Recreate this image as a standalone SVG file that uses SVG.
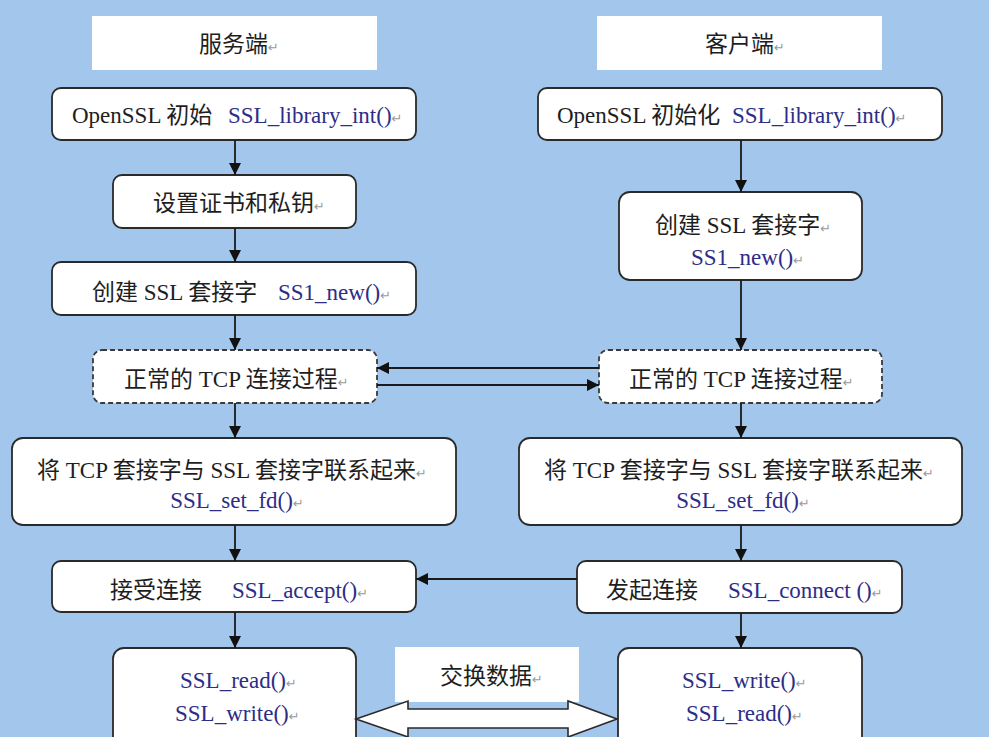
<svg xmlns="http://www.w3.org/2000/svg" width="989" height="737" viewBox="0 0 989 737">
<style>
.bg{fill:#a3c6ec}
.box{fill:#ffffff;stroke:#2a2a2a;stroke-width:1.8}
.dash{fill:#ffffff;stroke:#3a3a3a;stroke-width:1.8;stroke-dasharray:5 3}
.hdr{fill:#ffffff}
.t{font-family:"Liberation Serif","Noto Sans CJK SC",serif;font-size:23px;fill:#1e1e1e}
.b{font-family:"Liberation Serif","Noto Sans CJK SC",serif;font-size:23px;fill:#2d2d86}
.r{font-family:"DejaVu Sans",sans-serif;font-size:13px;fill:#9a9a9a}
.ln{stroke:#1a1a1a;stroke-width:1.8;fill:none}
</style>
<defs>
<marker id="ah" viewBox="0 0 12 12" refX="12" refY="6" markerWidth="12" markerHeight="12" markerUnits="userSpaceOnUse" orient="auto">
<path d="M0,0 L12,6 L0,12 Z" fill="#111111"/>
</marker>
</defs>
<rect class="bg" x="0" y="0" width="989" height="737"/>

<g id="server-header">
<rect class="hdr" x="92" y="16" width="285" height="54"/>
<text class="t" x="199" y="52">服务端<tspan class="r">↵</tspan></text>
</g>
<g id="client-header">
<rect class="hdr" x="597" y="16" width="285" height="54"/>
<text class="t" x="705" y="52">客户端<tspan class="r">↵</tspan></text>
</g>

<g id="s-init">
<rect class="box" x="52" y="88" width="364" height="52" rx="9"/>
<text class="t" x="72" y="123">OpenSSL 初始</text>
<text class="b" x="228" y="123">SSL_library_int()<tspan class="r">↵</tspan></text>
</g>
<g id="s-cert">
<rect class="box" x="113" y="175" width="243" height="53" rx="9"/>
<text class="t" x="153" y="211">设置证书和私钥<tspan class="r">↵</tspan></text>
</g>
<g id="s-new">
<rect class="box" x="52" y="262" width="364" height="53" rx="9"/>
<text class="t" x="92" y="300">创建 SSL 套接字</text>
<text class="b" x="278" y="300">SS1_new()<tspan class="r">↵</tspan></text>
</g>
<g id="s-tcp">
<rect class="dash" x="93" y="350" width="284" height="53" rx="9"/>
<text class="t" x="124" y="387">正常的 TCP 连接过程<tspan class="r">↵</tspan></text>
</g>
<g id="s-setfd">
<rect class="box" x="12" y="438" width="444" height="87" rx="11"/>
<text class="t" x="37" y="478">将 TCP 套接字与 SSL 套接字联系起来<tspan class="r">↵</tspan></text>
<text class="b" x="237" y="508" text-anchor="middle">SSL_set_fd()<tspan class="r">↵</tspan></text>
</g>
<g id="s-accept">
<rect class="box" x="52" y="561" width="364" height="51" rx="9"/>
<text class="t" x="110" y="598">接受连接</text>
<text class="b" x="232" y="598">SSL_accept()<tspan class="r">↵</tspan></text>
</g>
<g id="s-rw">
<rect class="box" x="113" y="648" width="243" height="100" rx="11"/>
<text class="b" x="180" y="688">SSL_read()<tspan class="r">↵</tspan></text>
<text class="b" x="175" y="721">SSL_write()<tspan class="r">↵</tspan></text>
</g>

<g id="c-init">
<rect class="box" x="538" y="88" width="404" height="52" rx="9"/>
<text class="t" x="557" y="123">OpenSSL 初始化</text>
<text class="b" x="732" y="123">SSL_library_int()<tspan class="r">↵</tspan></text>
</g>
<g id="c-new">
<rect class="box" x="619" y="192" width="243" height="88" rx="11"/>
<text class="t" x="655" y="233">创建 SSL 套接字<tspan class="r">↵</tspan></text>
<text class="b" x="691" y="265">SS1_new()<tspan class="r">↵</tspan></text>
</g>
<g id="c-tcp">
<rect class="dash" x="599" y="350" width="283" height="53" rx="9"/>
<text class="t" x="629" y="387">正常的 TCP 连接过程<tspan class="r">↵</tspan></text>
</g>
<g id="c-setfd">
<rect class="box" x="519" y="438" width="443" height="87" rx="11"/>
<text class="t" x="544" y="478">将 TCP 套接字与 SSL 套接字联系起来<tspan class="r">↵</tspan></text>
<text class="b" x="743" y="508" text-anchor="middle">SSL_set_fd()<tspan class="r">↵</tspan></text>
</g>
<g id="c-connect">
<rect class="box" x="577" y="561" width="325" height="52" rx="9"/>
<text class="t" x="606" y="598">发起连接</text>
<text class="b" x="728" y="598">SSL_connect ()<tspan class="r">↵</tspan></text>
</g>
<g id="c-rw">
<rect class="box" x="618" y="648" width="244" height="100" rx="11"/>
<text class="b" x="682" y="688">SSL_write()<tspan class="r">↵</tspan></text>
<text class="b" x="686" y="721">SSL_read()<tspan class="r">↵</tspan></text>
</g>

<g id="exchange">
<rect class="hdr" x="395" y="647" width="184" height="55"/>
<text class="t" x="440" y="684">交换数据<tspan class="r">↵</tspan></text>
</g>

<g id="connectors">
<line class="ln" x1="235" y1="140" x2="235" y2="175" marker-end="url(#ah)"/>
<line class="ln" x1="235" y1="228" x2="235" y2="262" marker-end="url(#ah)"/>
<line class="ln" x1="235" y1="315" x2="235" y2="350" marker-end="url(#ah)"/>
<line class="ln" x1="235" y1="403" x2="235" y2="438" marker-end="url(#ah)"/>
<line class="ln" x1="235" y1="525" x2="235" y2="561" marker-end="url(#ah)"/>
<line class="ln" x1="235" y1="612" x2="235" y2="648" marker-end="url(#ah)"/>
<line class="ln" x1="741" y1="140" x2="741" y2="192" marker-end="url(#ah)"/>
<line class="ln" x1="741" y1="280" x2="741" y2="350" marker-end="url(#ah)"/>
<line class="ln" x1="741" y1="403" x2="741" y2="438" marker-end="url(#ah)"/>
<line class="ln" x1="741" y1="525" x2="741" y2="561" marker-end="url(#ah)"/>
<line class="ln" x1="741" y1="613" x2="741" y2="648" marker-end="url(#ah)"/>
<line class="ln" x1="599" y1="368" x2="377" y2="368" marker-end="url(#ah)"/>
<line class="ln" x1="377" y1="385" x2="599" y2="385" marker-end="url(#ah)"/>
<line class="ln" x1="577" y1="579" x2="416" y2="579" marker-end="url(#ah)"/>
<path d="M356,719 L408,701 L408,709 L568,709 L568,701 L617,719 L568,737 L568,728 L408,728 L408,737 Z" fill="#ffffff" stroke="#2a2a2a" stroke-width="1.6"/>
</g>
</svg>
